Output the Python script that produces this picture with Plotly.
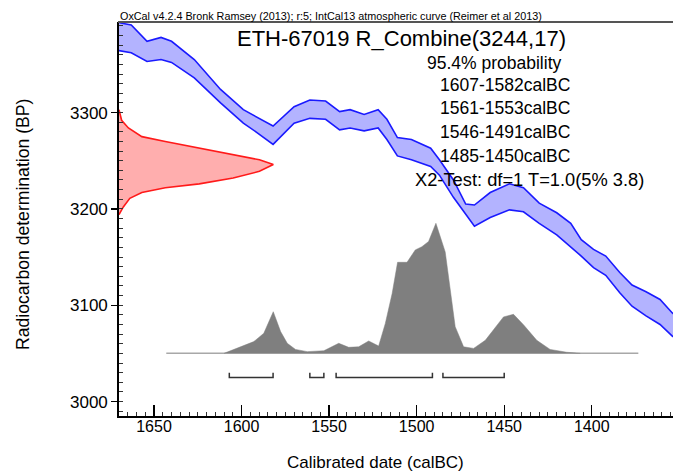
import plotly.graph_objects as go

# ---- Calibration curve (IntCal13 band) ----
cal_years = [1675, 1669, 1663, 1654, 1646, 1640, 1627, 1612, 1599, 1591, 1582, 1570, 1561, 1552,
             1544, 1538, 1530, 1522, 1517, 1511, 1503, 1492, 1487, 1479, 1472, 1467, 1458, 1447,
             1439, 1430, 1420, 1412, 1406, 1399, 1392, 1384, 1377, 1369, 1361, 1354, 1345]
cal_upper = [3396, 3393, 3391, 3374, 3378, 3374, 3355, 3324, 3303, 3295, 3286, 3306, 3313, 3312,
             3301, 3303, 3298, 3303, 3293, 3274, 3272, 3263, 3251, 3230, 3205, 3204, 3217, 3226,
             3222, 3206, 3196, 3185, 3168, 3158, 3151, 3134, 3121, 3114, 3106, 3092, 3080]
cal_lower = [3366, 3364, 3362, 3353, 3355, 3352, 3336, 3310, 3289, 3279, 3267, 3289, 3294, 3293,
             3282, 3284, 3281, 3284, 3272, 3255, 3251, 3244, 3235, 3212, 3194, 3182, 3191, 3199,
             3197, 3185, 3173, 3161, 3151, 3139, 3131, 3113, 3099, 3089, 3080, 3068, 3055]

# ---- Measurement (radiocarbon) distribution on the y axis ----
meas_bp = [3303, 3292, 3284, 3275, 3270, 3263, 3256, 3251, 3246, 3239, 3232, 3226, 3222, 3217,
           3211, 3202, 3194]
meas_prob = [0, 0.017, 0.061, 0.148, 0.30, 0.52, 0.74, 0.91, 1.0, 0.91, 0.74, 0.52, 0.30, 0.148,
             0.07, 0.028, 0]

# ---- Calibrated (posterior) distribution ----
post_years = [1610, 1602.4, 1593, 1587.3, 1581.9, 1577.7, 1573.9, 1569.2, 1562.5, 1553, 1544.5,
              1538.8, 1533.1, 1527.4, 1521.7, 1517.9, 1514, 1510.9, 1505.5, 1500.8, 1497, 1493.2,
              1489, 1483.7, 1480.8, 1478, 1473.2, 1467.5, 1460.8, 1450.4, 1444.7, 1439, 1431.4,
              1423.8, 1414.3, 1406.6]
post_prob = [0, 0.038, 0.09, 0.154, 0.32, 0.167, 0.077, 0.03, 0.013, 0.02, 0.077, 0.046, 0.05,
             0.095, 0.056, 0.23, 0.46, 0.70, 0.70, 0.795, 0.82, 0.86, 1.0, 0.78, 0.487, 0.205,
             0.05, 0.038, 0.10, 0.28, 0.30, 0.22, 0.10, 0.03, 0.008, 0]
baseline_years = [1643, 1373.4]

# ---- 95.4% ranges ----
range_start = [1607, 1561, 1546, 1485]
range_end = [1582, 1553, 1491, 1450]

# ---- Tick labels ----
x_ticks = [1650, 1600, 1550, 1500, 1450, 1400]
y_ticks = [3000, 3100, 3200, 3300]

header = "OxCal v4.2.4 Bronk Ramsey (2013); r:5; IntCal13 atmospheric curve (Reimer et al 2013)"
title = "ETH-67019 R_Combine(3244,17)"
prob_label = "95.4% probability"
chi_label = "X2-Test: df=1 T=1.0(5% 3.8)"

FONT = "Liberation Sans, Arial, sans-serif"

fig = go.Figure()

# band
fig.add_trace(go.Scatter(x=cal_years, y=cal_lower, mode="lines",
                         line=dict(color="#1a1aff", width=1.6), hoverinfo="skip"))
fig.add_trace(go.Scatter(x=cal_years, y=cal_upper, mode="lines", fill="tonexty",
                         fillcolor="rgba(160,160,255,0.8)",
                         line=dict(color="#1a1aff", width=1.6), hoverinfo="skip"))

# posterior baseline + distribution
fig.add_trace(go.Scatter(x=baseline_years, y=[0, 0], xaxis="x", yaxis="y2", mode="lines",
                         line=dict(color="#a8a8a8", width=1.5), hoverinfo="skip"))
fig.add_trace(go.Scatter(x=post_years, y=post_prob, xaxis="x", yaxis="y2", mode="lines",
                         fill="tozeroy", fillcolor="#7f7f7f",
                         line=dict(color="#7f7f7f", width=0.5), hoverinfo="skip"))

# measurement distribution
fig.add_trace(go.Scatter(x=meas_prob, y=meas_bp, xaxis="x2", yaxis="y", mode="lines",
                         fill="toself", fillcolor="rgba(255,140,140,0.7)",
                         line=dict(color="#ff1a1a", width=1.6), hoverinfo="skip"))

# range brackets
for a, b in zip(range_start, range_end):
    fig.add_trace(go.Scatter(x=[a, a, b, b], y=[3030, 3025, 3025, 3030], mode="lines",
                             line=dict(color="#333333", width=1.5), hoverinfo="skip"))

# window geometry (body margin removed by post_script below)
W, H = 673, 473
PL, PR, PT, PB = 119, 673, 22, 416          # plot area in window pixels
L, R, T, B = PL, W - PR, PT, H - PB
pw, ph = PR - PL, PB - PT

def px(X):
    return (X - PL) / pw

def py(Y):
    return (PB - Y) / ph

ann = []

def add_text(text, x, y, size, xanchor="left", angle=0):
    ann.append(dict(text=text, x=x, y=y, xref="paper", yref="paper", showarrow=False,
                    xanchor=xanchor, yanchor="middle", textangle=angle,
                    font=dict(size=size, color="black", family=FONT)))

add_text(header, px(118), py(16), 10.8)
add_text(title, px(401), py(39), 22, "center")
add_text(prob_label, px(425), py(62.7), 17.5)
for i, (a, b) in enumerate(zip(range_start, range_end)):
    add_text(f"{a}-{b}calBC", px(438), py([85, 108.3, 131.5, 155.5][i]), 17.5)
add_text(chi_label, px(413), py(179.3), 18.3)
add_text("Calibrated date (calBC)", px(375), py(462.7), 17, "center")
add_text("Radiocarbon determination (BP)", px(23), py(225), 17.6, "center", -90)

fig.update_layout(
    width=W, height=H,
    margin=dict(l=L, r=R, t=T, b=B, pad=0),
    paper_bgcolor="white", plot_bgcolor="white",
    showlegend=False,
    font=dict(family=FONT, color="black"),
    annotations=ann,
    xaxis=dict(range=[1670, 1353.6], tickvals=x_ticks, ticks="inside", ticklen=11, tickwidth=1.3,
               tickcolor="black", showline=True, linecolor="black", linewidth=2.2,
               showgrid=False, zeroline=False, tickfont=dict(size=16, family=FONT),
               ticklabelstandoff=-5,
               minor=dict(dtick=5, tick0=0, ticks="inside", ticklen=4, tickwidth=1, tickcolor="#333",
                          showgrid=False),
               fixedrange=True),
    yaxis=dict(range=[2985, 3394], tickvals=y_ticks, ticks="outside", ticklen=6, tickwidth=1.3,
               tickcolor="black", showline=True, linecolor="black", linewidth=1.8,
               showgrid=False, zeroline=False, tickfont=dict(size=17, family=FONT),
               minor=dict(dtick=10, tick0=0, ticks="inside", ticklen=4, tickwidth=1, tickcolor="#333",
                          showgrid=False),
               fixedrange=True),
    xaxis2=dict(overlaying="x", anchor="y", range=[0, 3.59], visible=False, fixedrange=True),
    yaxis2=dict(overlaying="y", anchor="x", range=[-0.482, 2.548], visible=False, fixedrange=True),
    shapes=[dict(type="line", xref="paper", yref="paper", x0=px(118), x1=1.0, y0=1, y1=1,
                 line=dict(color="#555555", width=2))],
)

fig.write_html("out.html",
               config={"displayModeBar": False, "staticPlot": True},
               post_script="document.body.style.margin='0px';document.body.style.overflow='hidden';")
